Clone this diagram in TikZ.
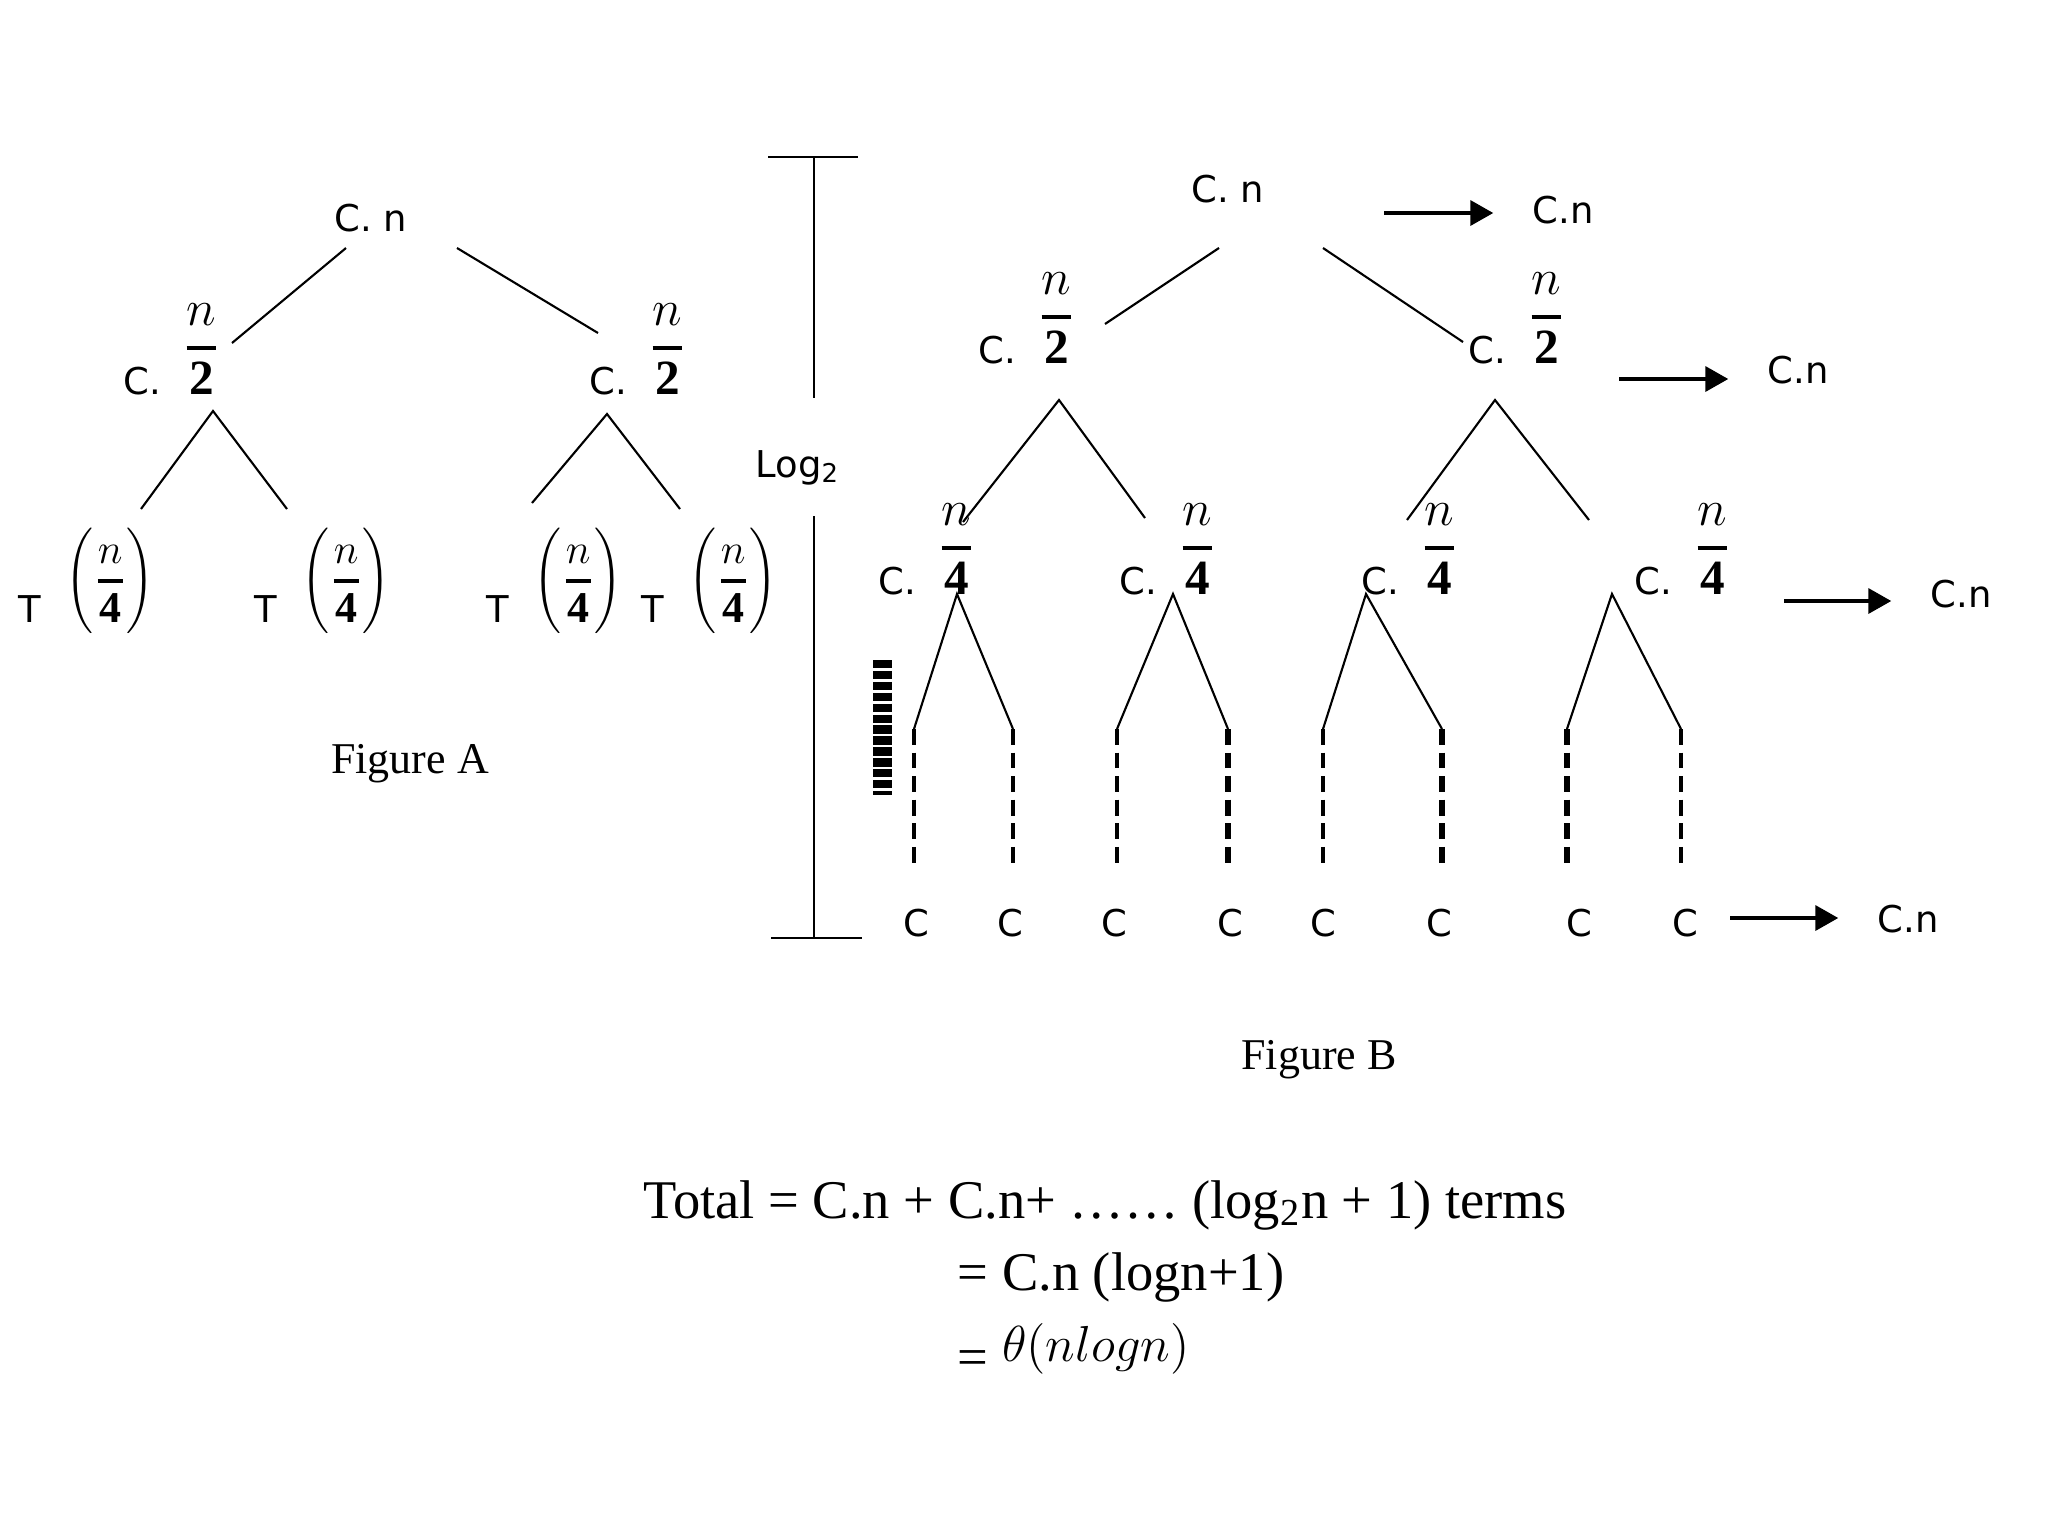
\documentclass[tikz,border=0pt]{standalone}
\usepackage{fontspec}
\setmainfont{Liberation Serif}
\newfontfamily\labfont{DejaVu Sans}
\usetikzlibrary{arrows.meta}

% C. n/k  and  T(n/4)
\newcommand{\Cfr}[1]{C.\hspace{6pt}\raisebox{9.6pt}{\fontsize{14}{16}\selectfont$\displaystyle{n\above1.1pt\mathbf{#1}}$}}
\newcommand{\Tfr}{T\hspace{7pt}\raisebox{8.6pt}{\fontsize{12.5}{14}\selectfont$\left(\rule[-0.95em]{0pt}{2.4em}\displaystyle{n\above1pt\mathbf{4}}\right)$}}

\begin{document}
\begin{tikzpicture}[
    x=0.01cm, y=-0.01cm,
    lbl/.style={inner sep=0, font=\labfont\fontsize{10.5}{12.6}\selectfont},
    figcap/.style={inner sep=0, font=\fontsize{12.5}{15}\selectfont},
    eqtext/.style={inner sep=0, font=\fontsize{15.5}{18}\selectfont},
    treeedge/.style={line width=0.6pt},
    logbar/.style={line width=0.8pt},
    dthin/.style={line width=1pt, dash pattern=on 4.5pt off 2.2pt},
    dmid/.style={line width=1.4pt, dash pattern=on 4.5pt off 2.2pt},
    dthick/.style={line width=1.9pt, dash pattern=on 4.5pt off 2.2pt},
    glitch/.style={line width=5.4pt, dash pattern=on 2.4pt off 0.7pt},
    sumarrow/.style={-{Triangle[length=6.5pt, width=7pt]}, line width=1.2pt, shorten >=11pt}
]

\path[fill=white] (0,0) rectangle (2048,1536);
\useasboundingbox (0,0) rectangle (2048,1536);

% ============================================
% FIGURE A
% ============================================

% Nodos
\node[lbl, anchor=base] (aRoot) at (371,231) {C. n};
\node[lbl, anchor=base west] (aL) at (123,394) {\Cfr{2}};
\node[lbl, anchor=base west] (aR) at (589,394) {\Cfr{2}};

\node[lbl, anchor=base west] (aLL) at (18,622) {\Tfr};
\node[lbl, anchor=base west] (aLR) at (254,622) {\Tfr};
\node[lbl, anchor=base west] (aRL) at (486,622) {\Tfr};
\node[lbl, anchor=base west] (aRR) at (641,622) {\Tfr};

% Aristas: raiz
\coordinate (aRoot-l) at (346,248);
\coordinate (aRoot-r) at (457,248);
\coordinate (aL-in) at (232,343);
\coordinate (aR-in) at (598,333);
\draw[treeedge] (aRoot-l) -- (aL-in);
\draw[treeedge] (aRoot-r) -- (aR-in);

% Aristas: nivel 1
\coordinate (aL-apex) at (213,411);
\coordinate (aLL-in) at (141,509);
\coordinate (aLR-in) at (287,509);
\draw[treeedge] (aLL-in) -- (aL-apex) -- (aLR-in);

\coordinate (aR-apex) at (607,414);
\coordinate (aRL-in) at (532,503);
\coordinate (aRR-in) at (680,509);
\draw[treeedge] (aRL-in) -- (aR-apex) -- (aRR-in);

% Titulo
\node[figcap, anchor=base] (capA) at (410,773) {Figure A};

% ============================================
% ALTURA (Log2)
% ============================================
\coordinate (logTop) at (814,157);
\coordinate (logUp) at (814,398);
\coordinate (logDn) at (814,516);
\coordinate (logBot) at (814,938);
\node[lbl, anchor=base west] (logLbl) at (755,477) {Log\textsubscript{2}};

\draw[logbar] (768,157) -- (858,157);
\draw[logbar] (logTop) -- (logUp);
\draw[logbar] (logDn) -- (logBot);
\draw[logbar] (771,938) -- (862,938);

% ============================================
% FIGURE B
% ============================================

% Nodos
\node[lbl, anchor=base] (bRoot) at (1228,202) {C. n};
\node[lbl, anchor=base west] (bL) at (978,363) {\Cfr{2}};
\node[lbl, anchor=base west] (bR) at (1468,363) {\Cfr{2}};

\node[lbl, anchor=base west] (bLL) at (878,594) {\Cfr{4}};
\node[lbl, anchor=base west] (bLR) at (1119,594) {\Cfr{4}};
\node[lbl, anchor=base west] (bRL) at (1361,594) {\Cfr{4}};
\node[lbl, anchor=base west] (bRR) at (1634,594) {\Cfr{4}};

% Aristas: raiz
\coordinate (bRoot-l) at (1219,248);
\coordinate (bRoot-r) at (1323,248);
\coordinate (bL-in) at (1105,324);
\coordinate (bR-in) at (1463,342);
\draw[treeedge] (bRoot-l) -- (bL-in);
\draw[treeedge] (bRoot-r) -- (bR-in);

% Aristas: nivel 1
\coordinate (bL-apex) at (1059,400);
\coordinate (bLL-in) at (963,522);
\coordinate (bLR-in) at (1145,518);
\draw[treeedge] (bLL-in) -- (bL-apex) -- (bLR-in);

\coordinate (bR-apex) at (1495,400);
\coordinate (bRL-in) at (1407,520);
\coordinate (bRR-in) at (1589,520);
\draw[treeedge] (bRL-in) -- (bR-apex) -- (bRR-in);

% Aristas: nivel 2
\coordinate (bLL-apex) at (957,594);
\coordinate (bLR-apex) at (1173,594);
\coordinate (bRL-apex) at (1366,594);
\coordinate (bRR-apex) at (1612,594);

\coordinate (leaf1) at (914,729);
\coordinate (leaf2) at (1013,729);
\coordinate (leaf3) at (1117,729);
\coordinate (leaf4) at (1228,729);
\coordinate (leaf5) at (1323,729);
\coordinate (leaf6) at (1442,729);
\coordinate (leaf7) at (1567,729);
\coordinate (leaf8) at (1681,729);

\draw[treeedge] (leaf1) -- (bLL-apex) -- (leaf2);
\draw[treeedge] (leaf3) -- (bLR-apex) -- (leaf4);
\draw[treeedge] (leaf5) -- (bRL-apex) -- (leaf6);
\draw[treeedge] (leaf7) -- (bRR-apex) -- (leaf8);

% Hojas C
\node[lbl, anchor=base] (c1) at (916,936) {C};
\node[lbl, anchor=base] (c2) at (1010,936) {C};
\node[lbl, anchor=base] (c3) at (1114,936) {C};
\node[lbl, anchor=base] (c4) at (1230,936) {C};
\node[lbl, anchor=base] (c5) at (1323,936) {C};
\node[lbl, anchor=base] (c6) at (1439,936) {C};
\node[lbl, anchor=base] (c7) at (1579,936) {C};
\node[lbl, anchor=base] (c8) at (1685,936) {C};

% Punteadas
\draw[dthin] (leaf1) -- (914,868);
\draw[dmid] (leaf2) -- (1013,868);
\draw[dmid] (leaf3) -- (1117,868);
\draw[dthick] (leaf4) -- (1228,868);
\draw[dmid] (leaf5) -- (1323,868);
\draw[dthick] (leaf6) -- (1442,868);
\draw[dthick] (leaf7) -- (1567,868);
\draw[dmid] (leaf8) -- (1681,868);

% marca
\coordinate (gTop) at (882,660);
\coordinate (gBot) at (882,795);
\draw[glitch] (gTop) -- (gBot);

% Suma por nivel
\node[lbl, anchor=base west] (cn1) at (1532,223) {C.n};
\node[lbl, anchor=base west] (cn2) at (1767,383) {C.n};
\node[lbl, anchor=base west] (cn3) at (1930,607) {C.n};
\node[lbl, anchor=base west] (cn4) at (1877,932) {C.n};

\coordinate (arr1) at (1384,213);
\coordinate (arr2) at (1619,379);
\coordinate (arr3) at (1784,601);
\coordinate (arr4) at (1730,918);
\draw[sumarrow] (arr1) -- (arr1 -| cn1.west);
\draw[sumarrow] (arr2) -- (arr2 -| cn2.west);
\draw[sumarrow] (arr3) -- (arr3 -| cn3.west);
\draw[sumarrow] (arr4) -- (arr4 -| cn4.west);

% Titulo
\node[figcap, anchor=base] (capB) at (1319,1069) {Figure B};

% ============================================
% TOTAL
% ============================================
\node[eqtext, anchor=base west] (tot1) at (643,1218) {Total = C.n + C.n+ …… (log\textsubscript{2}n + 1) terms};
\node[eqtext, anchor=base west] (tot2) at (957,1290) {= C.n (logn+1)};
\node[eqtext, anchor=base west] (tot3) at (957,1361) {\raisebox{-4pt}{=} $\theta(nlogn)$};

\end{tikzpicture}
\end{document}
